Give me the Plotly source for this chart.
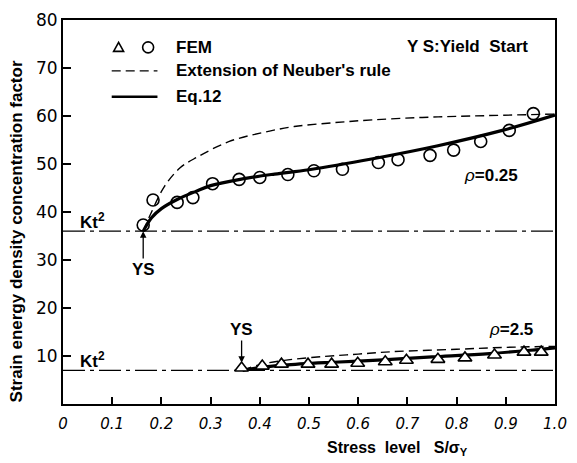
import plotly.graph_objects as go

# ---------------- data ----------------
kt2_values = [36.0, 7.0]

fem_x_rho025 = [0.163, 0.183, 0.232, 0.264, 0.304, 0.358, 0.400, 0.457, 0.510, 0.568,
                0.641, 0.681, 0.746, 0.794, 0.849, 0.907, 0.956]
fem_y_rho025 = [37.3, 42.5, 42.0, 43.0, 45.9, 46.8, 47.2, 47.8, 48.6, 48.9,
                50.3, 50.9, 51.8, 52.9, 54.7, 57.0, 60.5]

eq12_x_rho025 = [0.163, 0.180, 0.200, 0.232, 0.270, 0.300, 0.365, 0.430, 0.500, 0.630, 0.762, 0.893, 1.000]
eq12_y_rho025 = [36.0, 38.8, 40.7, 42.6, 44.3, 45.5, 46.9, 47.9, 48.8, 51.1, 53.8, 57.0, 60.2]

neuber_x_rho025 = [0.163, 0.180, 0.206, 0.238, 0.272, 0.338, 0.404, 0.470, 0.550, 0.630, 0.730, 0.830, 1.000]
neuber_y_rho025 = [36.0, 40.0, 45.3, 49.2, 51.4, 54.7, 56.5, 57.8, 58.6, 59.2, 59.7, 60.0, 60.4]

fem_x_rho25 = [0.363, 0.405, 0.444, 0.498, 0.546, 0.599, 0.655, 0.698, 0.762, 0.817, 0.877, 0.937, 0.972]
fem_y_rho25 = [7.5, 7.9, 8.3, 8.3, 8.3, 8.5, 8.8, 9.1, 9.3, 9.6, 10.2, 10.8, 10.8]

eq12_x_rho25 = [0.365, 0.400, 0.450, 0.550, 0.650, 0.750, 0.867, 0.950, 1.000]
eq12_y_rho25 = [7.0, 7.6, 8.1, 8.7, 9.2, 9.8, 10.5, 11.2, 11.7]

neuber_x_rho25 = [0.365, 0.400, 0.450, 0.530, 0.600, 0.670, 0.800, 0.900, 1.000]
neuber_y_rho25 = [7.0, 8.2, 9.1, 9.9, 10.4, 10.9, 11.4, 11.8, 12.0]

x_ticks = [0, 0.1, 0.2, 0.3, 0.4, 0.5, 0.6, 0.7, 0.8, 0.9, 1.0]
x_tick_labels = ["0", "0.1", "0.2", "0.3", "0.4", "0.5", "0.6", "0.7", "0.8", "0.9", "1.0"]
y_ticks = [10, 20, 30, 40, 50, 60, 70, 80]

# ---------------- figure ----------------
fig = go.Figure()
BOLD = "Liberation Sans"

for kt in kt2_values:
    fig.add_trace(go.Scatter(x=[0, 1], y=[kt, kt], mode="lines",
                             line=dict(color="black", width=1.3, dash="22px,5px,4px,5px"),
                             showlegend=False, hoverinfo="skip"))

for xs, ys in [(neuber_x_rho025, neuber_y_rho025), (neuber_x_rho25, neuber_y_rho25)]:
    fig.add_trace(go.Scatter(x=xs, y=ys, mode="lines", line_shape="spline",
                             line=dict(color="black", width=1.4, dash="9px,5px"),
                             showlegend=False))

for xs, ys in [(eq12_x_rho025, eq12_y_rho025), (eq12_x_rho25, eq12_y_rho25)]:
    fig.add_trace(go.Scatter(x=xs, y=ys, mode="lines", line_shape="spline",
                             line=dict(color="black", width=3.2),
                             showlegend=False))

fig.add_trace(go.Scatter(x=fem_x_rho025, y=fem_y_rho025, mode="markers",
                         marker=dict(symbol="circle-open", size=12, color="black",
                                     line=dict(width=1.6, color="black")),
                         showlegend=False))
fig.add_trace(go.Scatter(x=fem_x_rho25, y=fem_y_rho25, mode="markers",
                         marker=dict(symbol="triangle-up", size=12, color="white",
                                     line=dict(width=1.6, color="black")),
                         showlegend=False))

# ---------------- legend (drawn manually) ----------------
leg_x_line0, leg_x_line1, leg_x_text = 0.099, 0.192, 0.226
leg_y = [74.3, 69.4, 64.0]
shapes = [
    dict(type="path", xref="x", yref="y", xsizemode="pixel", ysizemode="pixel",
         xanchor=0.113, yanchor=leg_y[0], path="M -5,-4 L 5,-4 L 0,5 Z",
         line=dict(color="black", width=1.6)),
    dict(type="circle", xref="x", yref="y", xsizemode="pixel", ysizemode="pixel",
         xanchor=0.173, yanchor=leg_y[0], x0=-5.5, x1=5.5, y0=-5.5, y1=5.5,
         line=dict(color="black", width=1.6)),
    dict(type="line", xref="x", yref="y", x0=leg_x_line0, x1=leg_x_line1, y0=leg_y[1], y1=leg_y[1],
         line=dict(color="black", width=1.4, dash="9px,5px")),
    dict(type="line", xref="x", yref="y", x0=leg_x_line0, x1=leg_x_line1, y0=leg_y[2], y1=leg_y[2],
         line=dict(color="black", width=2.6)),
]
fig.update_layout(shapes=shapes)

ann = []
leg_texts = ["FEM", "Extension of Neuber's rule", "Eq.12"]
for t, yv in zip(leg_texts, leg_y):
    ann.append(dict(x=leg_x_text, y=yv, text="<b>" + t + "</b>", showarrow=False,
                    xanchor="left", yanchor="middle",
                    font=dict(family=BOLD, size=17, color="black")))

ann.append(dict(x=0.95, y=74.5, text="<b>Y S:Yield  Start</b>", showarrow=False,
                xanchor="right", yanchor="middle", font=dict(family=BOLD, size=17, color="black")))

# Kt^2 labels
for kt in kt2_values:
    ann.append(dict(x=0.06, y=kt, text="<b>Kt<sup>2</sup></b>", showarrow=False,
                    xanchor="center", yanchor="bottom", yshift=-3,
                    font=dict(family=BOLD, size=17, color="black")))

# rho labels
ann.append(dict(x=0.87, y=47.7, text="<i>ρ</i><b>=0.25</b>", showarrow=False,
                xanchor="center", yanchor="middle", font=dict(family=BOLD, size=17, color="black")))
ann.append(dict(x=0.91, y=15.6, text="<i>ρ</i><b>=2.5</b>", showarrow=False,
                xanchor="center", yanchor="middle", font=dict(family=BOLD, size=17, color="black")))

# YS arrows
ann.append(dict(x=fem_x_rho025[0], y=kt2_values[0], ax=fem_x_rho025[0], ay=28.0,
                axref="x", ayref="y", text="<b>YS</b>", showarrow=True,
                arrowhead=2, arrowsize=1, arrowwidth=1.3, arrowcolor="black",
                font=dict(family=BOLD, size=17, color="black")))
ann.append(dict(x=fem_x_rho25[0], y=8.6, ax=fem_x_rho25[0], ay=15.5,
                axref="x", ayref="y", text="<b>YS</b>", showarrow=True,
                arrowhead=2, arrowsize=1, arrowwidth=1.3, arrowcolor="black",
                font=dict(family=BOLD, size=17, color="black")))

# axis titles
ann.append(dict(xref="paper", yref="paper", x=0.68, y=-0.115,
                text="<b>Stress  level   S/σ<sub>Y</sub></b>", showarrow=False,
                xanchor="center", yanchor="middle", font=dict(family=BOLD, size=16, color="black")))
ann.append(dict(xref="paper", yref="paper", x=-0.095, y=0.45, textangle=-90,
                text="<b>Strain energy density concentration factor</b>", showarrow=False,
                xanchor="center", yanchor="middle", font=dict(family=BOLD, size=17, color="black")))

fig.update_layout(annotations=ann)

fig.update_xaxes(range=[0, 1], tickvals=x_ticks, ticktext=x_tick_labels,
                 ticks="inside", ticklen=7, tickwidth=1.5, tickcolor="black",
                 showline=True, linecolor="black", linewidth=2, mirror=True,
                 showgrid=False, zeroline=False, ticklabelstandoff=5,
                 tickfont=dict(family="DejaVu Sans", size=15, color="black", style="italic"))
fig.update_yaxes(range=[0, 80], tickvals=y_ticks,
                 ticks="inside", ticklen=8, tickwidth=1.5, tickcolor="black",
                 showline=True, linecolor="black", linewidth=2, mirror=True,
                 showgrid=False, zeroline=False,
                 tickfont=dict(family="DejaVu Sans", size=17, color="black"))

fig.update_layout(width=577, height=463, margin=dict(l=63, r=10, t=11, b=59),
                  plot_bgcolor="white", paper_bgcolor="white", showlegend=False)

fig.write_html("out.html")
